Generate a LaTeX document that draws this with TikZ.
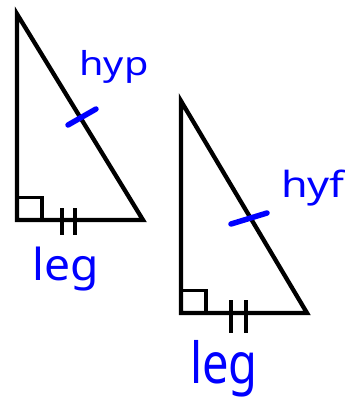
\documentclass[tikz,border=0pt]{standalone}
\usepackage{fontspec}
\setmainfont{Noto Sans}
\begin{document}
\begin{tikzpicture}[x=1pt,y=-1pt,
  tri/.style={line width=4.3pt,line join=miter,black},
  tickline/.style={line width=3.5pt,black},
  pen/.style={line width=5.5pt,line cap=round,blue},
  hand/.style={text=blue,inner sep=0pt,anchor=base}]
\useasboundingbox (0,0) rectangle (345,410);
% first triangle
\coordinate (A1) at (17,14);
\coordinate (C1) at (17,220);
\coordinate (B1) at (143,220);
\draw[tri] (A1) -- (C1) -- (B1) -- cycle;
\draw[tickline] (17,197.5) -- (42,197.5) -- (42,220);
\draw[tickline] (62,208) -- (62,235);
\draw[tickline] (75,208) -- (75,235);
\draw[pen] (68,125) -- (96,109);
\node[hand,font=\fontsize{33}{33}\selectfont,xscale=1.2] (hyp1) at (114,75) {hyp};
\node[hand,font=\fontsize{42}{42}\selectfont,xscale=1.1,yscale=1.05] (leg1) at (66,280) {leg};
% second triangle
\coordinate (A2) at (181,101);
\coordinate (C2) at (181,313);
\coordinate (B2) at (307,313);
\draw[tri] (A2) -- (C2) -- (B2) -- cycle;
\draw[tickline] (181,290.5) -- (206,290.5) -- (206,313);
\draw[tickline] (231,300) -- (231,333);
\draw[tickline] (246,300) -- (246,333);
\draw[pen] (231,224) -- (267,213);
\node[hand,font=\fontsize{36}{36}\selectfont,xscale=1.2] (hyp2) at (313,197) {hyf};
\node[hand,font=\fontsize{42}{42}\selectfont,xscale=1.12,yscale=1.35] (leg2) at (224,383) {leg};
\end{tikzpicture}
\end{document}
